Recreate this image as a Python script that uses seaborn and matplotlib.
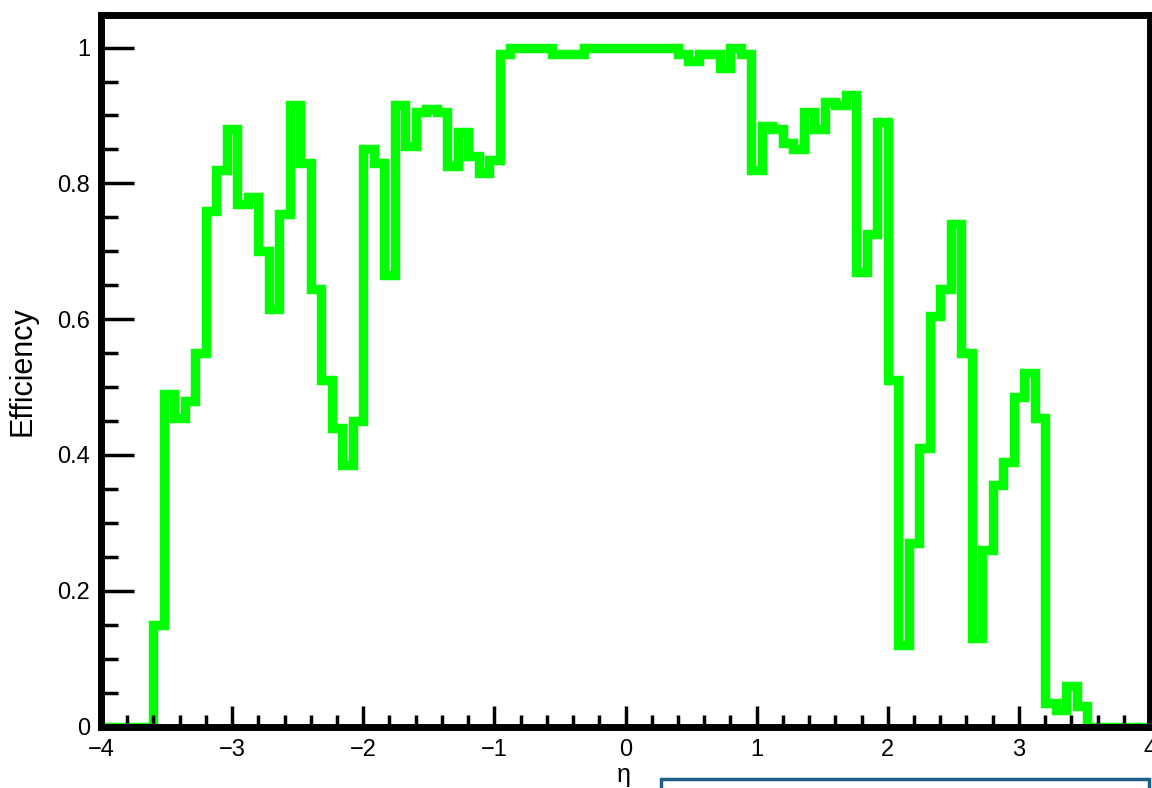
import numpy as np
import pandas as pd
import seaborn as sns
import matplotlib.pyplot as plt
from matplotlib.patches import Rectangle
from matplotlib.ticker import MultipleLocator, FuncFormatter

# eta binning: 100 bins of 0.08 between -4 and 4
eta_edges = np.linspace(-4, 4, 101)

# efficiency per bin (left to right)
efficiency = [
    0, 0, 0, 0, 0, 0.15, 0.49, 0.455, 0.48, 0.55,
    0.76, 0.82, 0.88, 0.77, 0.78, 0.70, 0.615, 0.755, 0.915, 0.83,
    0.645, 0.51, 0.44, 0.385, 0.45, 0.85, 0.83, 0.665, 0.915, 0.855,
    0.905, 0.91, 0.905, 0.825, 0.875, 0.84, 0.815, 0.835, 0.99, 1.0,
    1.0, 1.0, 1.0, 0.99, 0.99, 0.99, 1.0, 1.0, 1.0, 1.0,
    1.0, 1.0, 1.0, 1.0, 1.0, 0.99, 0.98, 0.99, 0.99, 0.97,
    1.0, 0.99, 0.82, 0.885, 0.88, 0.86, 0.85, 0.905, 0.88, 0.92,
    0.915, 0.93, 0.67, 0.725, 0.89, 0.51, 0.12, 0.27, 0.41, 0.605,
    0.645, 0.74, 0.55, 0.13, 0.26, 0.355, 0.39, 0.485, 0.52, 0.455,
    0.035, 0.025, 0.06, 0.03, 0, 0, 0, 0, 0, 0,
]

x_ticks = [-4, -3, -2, -1, 0, 1, 2, 3, 4]
y_ticks = [0, 0.2, 0.4, 0.6, 0.8, 1.0]

# step outline: each bin value starts at its left edge, last value held to the right edge
df = pd.DataFrame({"eta": eta_edges, "eff": efficiency + [efficiency[-1]]})

sns.set_style("white")
plt.rcParams['font.family'] = ['Liberation Sans', 'DejaVu Sans']

W, H = 1152, 788
fig = plt.figure(figsize=(W / 100, H / 100), dpi=100)
ax = fig.add_axes([101 / W, (H - 726.5) / H, (1150 - 101) / W, (726.5 - 15) / H])

sns.lineplot(data=df, x="eta", y="eff", estimator=None, drawstyle="steps-post",
             color="#00ff00", linewidth=6.8, solid_joinstyle="miter", ax=ax)

ax.set_xlim(-4, 4)
ax.set_ylim(0, 1.048)
ax.set_axisbelow(False)

ax.set_xticks(x_ticks)
ax.set_yticks(y_ticks)
ax.xaxis.set_minor_locator(MultipleLocator(0.2))
ax.yaxis.set_minor_locator(MultipleLocator(0.05))
ax.yaxis.set_major_formatter(FuncFormatter(lambda v, p: f"{v:g}"))

ax.tick_params(axis='both', which='both', direction='in', color='black', width=2.5,
               labelcolor='black', top=False, right=False, bottom=True, left=True)
ax.tick_params(axis='y', which='major', length=23.5, labelsize=17, pad=8)
ax.tick_params(axis='y', which='minor', length=12)
ax.tick_params(axis='x', which='major', length=15, labelsize=17, pad=9)
ax.tick_params(axis='x', which='minor', length=8.5)

for s in ax.spines.values():
    s.set_visible(True)
    s.set_color('black')
    s.set_linewidth(5)

ax.set_ylabel("Efficiency", fontsize=22, color='black')
ax.yaxis.set_label_coords(-0.061, 0.5)
ax.set_xlabel("η", fontsize=18, color='black')
ax.xaxis.set_label_coords(0.498, -0.052)

# blue frame peeking in at the bottom right
fig.add_artist(Rectangle((661 / W, -0.05), (1149 - 661) / W, 0.05 + (H - 779) / H,
                         transform=fig.transFigure, fill=False,
                         edgecolor='#1f5f8a', linewidth=2.5, clip_on=False))

fig.savefig("out.png", dpi=100)
